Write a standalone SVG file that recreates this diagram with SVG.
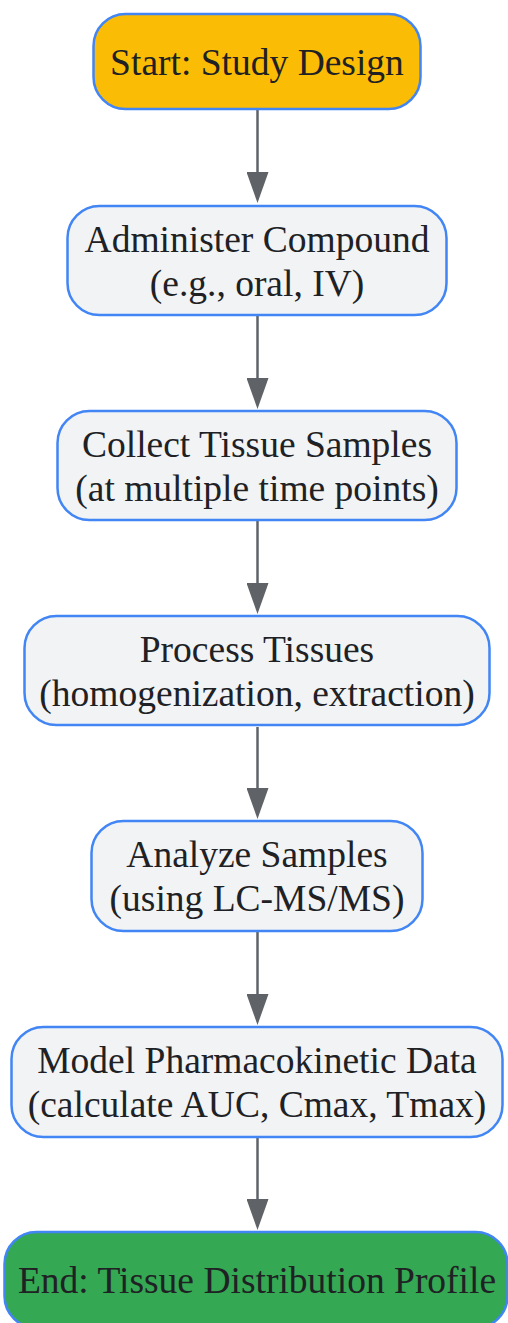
<svg xmlns="http://www.w3.org/2000/svg" width="508" height="1323" viewBox="0 0 508 1323">
<style>
.node rect{stroke:#4285F4;stroke-width:2.5}
.proc rect{fill:#F1F3F4}
.start rect{fill:#FBBC05}
.end rect{fill:#34A853}
text{font-family:"Liberation Serif","Times New Roman",serif;font-size:37.5px;fill:#202124;text-anchor:middle}
.edge{stroke:#5F6368;stroke-width:2.5;fill:none;marker-end:url(#arr)}
</style>
<defs>
<marker id="arr" viewBox="0 0 31 22" refX="8" refY="11" markerWidth="31" markerHeight="22" markerUnits="userSpaceOnUse" orient="auto">
<path d="M0,0 L31,11 L0,22 Z" fill="#5F6368"/>
</marker>
</defs>
<rect width="508" height="1323" fill="#FFFFFF"/>
<g id="connectors">
<path class="edge" d="M257.5,110 V180"/>
<path class="edge" d="M257.5,316 V386"/>
<path class="edge" d="M257.5,521 V591"/>
<path class="edge" d="M257.5,727 V796"/>
<path class="edge" d="M257.5,932 V1002"/>
<path class="edge" d="M257.5,1138 V1207"/>
</g>
<g id="n1" class="node start">
<rect x="93.5" y="14" width="327" height="95" rx="32" ry="32"/>
<text x="257" y="75">Start: Study Design</text>
</g>
<g id="n2" class="node proc">
<rect x="67.5" y="206" width="379" height="109" rx="32" ry="32"/>
<text x="257" y="252">Administer Compound</text>
<text x="257" y="296">(e.g., oral, IV)</text>
</g>
<g id="n3" class="node proc">
<rect x="57.5" y="411" width="399" height="109" rx="32" ry="32"/>
<text x="257" y="457">Collect Tissue Samples</text>
<text x="257" y="501">(at multiple time points)</text>
</g>
<g id="n4" class="node proc">
<rect x="24.5" y="616" width="465" height="109" rx="32" ry="32"/>
<text x="257" y="662">Process Tissues</text>
<text x="257" y="706">(homogenization, extraction)</text>
</g>
<g id="n5" class="node proc">
<rect x="91.5" y="821" width="331" height="110" rx="32" ry="32"/>
<text x="257" y="867">Analyze Samples</text>
<text x="257" y="911">(using LC-MS/MS)</text>
</g>
<g id="n6" class="node proc">
<rect x="11.5" y="1027" width="491" height="110" rx="32" ry="32"/>
<text x="257" y="1073">Model Pharmacokinetic Data</text>
<text x="257" y="1117">(calculate AUC, Cmax, Tmax)</text>
</g>
<g id="n7" class="node end">
<rect x="4.5" y="1232" width="503" height="96" rx="32" ry="32"/>
<text x="257" y="1293">End: Tissue Distribution Profile</text>
</g>
</svg>
